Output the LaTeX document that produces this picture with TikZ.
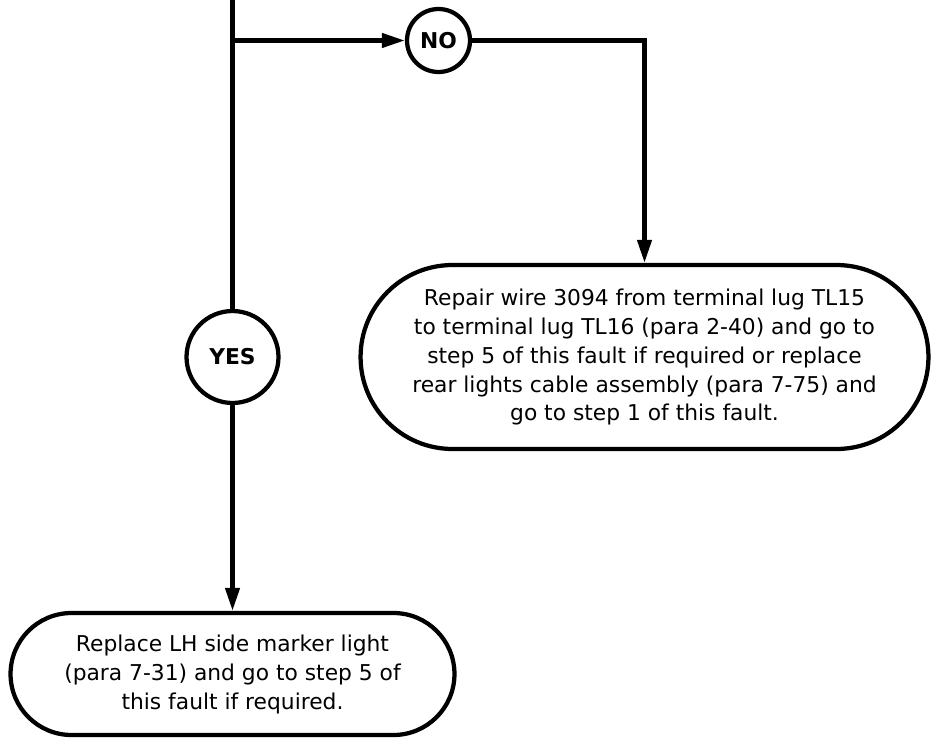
\documentclass[tikz,border=0pt]{standalone}
\usepackage{fontspec}
\setmainfont{DejaVu Sans}
\usetikzlibrary{arrows.meta,positioning}

\begin{document}
\begin{tikzpicture}[
  x=0.02cm,y=-0.02cm,
  every node/.style={font=\fontsize{12.4}{16.5}\selectfont},
  flowline/.style={line width=0.085cm,black},
  flowarrow/.style={flowline,-{Triangle[length=0.46cm,width=0.28cm]}},
  answer/.style={draw,circle,line width=0.085cm,inner sep=0pt,
                 font=\fontsize{12.4}{16.5}\selectfont\bfseries},
  actionbox/.style={draw,line width=0.085cm,align=center,inner sep=0pt},
]
  \useasboundingbox (0,0) rectangle (932,740);

  % Answers
  \node[answer,minimum size=1.26cm] (no) at (438.5,40.5) {NO};
  \node[answer,minimum size=1.84cm] (yes) at (232.5,357) {YES};

  % Actions
  \node[actionbox,minimum width=11.36cm,minimum height=3.68cm,
        rounded corners=1.84cm] (repair) at (644.5,357)
    {Repair wire 3094 from terminal lug TL15\\
     to terminal lug TL16 (para 2-40) and go to\\
     step 5 of this fault if required or replace\\
     rear lights cable assembly (para 7-75) and\\
     go to step 1 of this fault.};
  \node[actionbox,minimum width=8.88cm,minimum height=2.44cm,
        rounded corners=1.22cm] (replace) at (232.5,674)
    {Replace LH side marker light\\
     (para 7-31) and go to step 5 of\\
     this fault if required.};

  % Connectors
  \coordinate (top) at (232.5,0);
  \coordinate (split) at (232.5,40.5);
  \draw[flowline] (top) -- (yes.north);
  \draw[flowarrow] (split) -- (no.west);
  \draw[flowarrow] (no.east) -| (repair.north);
  \draw[flowarrow] (yes.south) -- (replace.north);
\end{tikzpicture}
\end{document}
